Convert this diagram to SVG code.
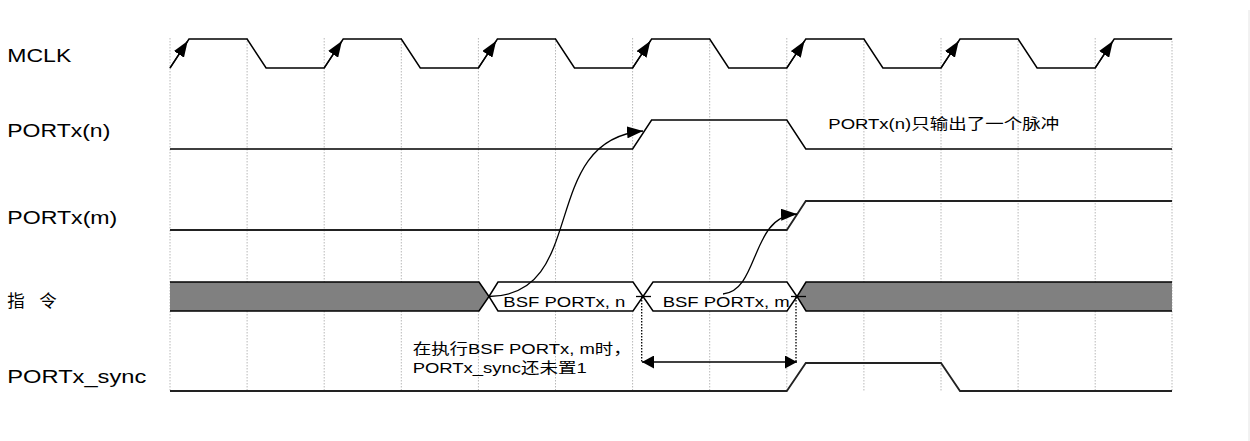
<svg xmlns="http://www.w3.org/2000/svg" width="1250" height="441" viewBox="0 0 1250 441">
<style>
.grid{stroke:#b8b8b8;stroke-width:1;stroke-dasharray:1.5,1.5;fill:none}
.wave{stroke:#000;stroke-width:1.5;fill:none;stroke-linejoin:miter}
.dark{stroke:#222;stroke-width:1.8;fill:none}
.bus{stroke:#000;stroke-width:1.5}
.lbl{font-family:"Liberation Sans","Noto Sans CJK SC",sans-serif;font-size:19px;fill:#000}
.ann{font-family:"Liberation Sans","Noto Sans CJK SC",sans-serif;font-size:15px;fill:#000}
.conn{stroke:#000;stroke-width:1.3;fill:none}
.dot{stroke:#000;stroke-width:1.3;stroke-dasharray:1.5,1.5;fill:none}
</style>
<defs>
<marker id="ah" viewBox="0 0 16 12" refX="16" refY="6" markerWidth="16" markerHeight="12" markerUnits="userSpaceOnUse" orient="auto"><path d="M0,0 L16,6 L0,12 z" fill="#000"/></marker>
<marker id="ah2" viewBox="0 0 12 13" refX="12" refY="6.5" markerWidth="12" markerHeight="13" markerUnits="userSpaceOnUse" orient="auto-start-reverse"><path d="M0,0 L12,6.5 L0,13 z" fill="#000"/></marker>
</defs>
<rect width="1250" height="441" fill="#fff"/>
<line x1="1249" y1="10" x2="1249" y2="441" stroke="#e4e4e4" stroke-width="1"/>
<g id="grid">
<line class="grid" x1="170" y1="38" x2="170" y2="391"/>
<line class="grid" x1="247.1" y1="38" x2="247.1" y2="391"/>
<line class="grid" x1="324.2" y1="38" x2="324.2" y2="391"/>
<line class="grid" x1="401.3" y1="38" x2="401.3" y2="391"/>
<line class="grid" x1="478.4" y1="38" x2="478.4" y2="391"/>
<line class="grid" x1="555.5" y1="38" x2="555.5" y2="391"/>
<line class="grid" x1="632.6" y1="38" x2="632.6" y2="391"/>
<line class="grid" x1="709.7" y1="38" x2="709.7" y2="391"/>
<line class="grid" x1="786.8" y1="38" x2="786.8" y2="391"/>
<line class="grid" x1="863.9" y1="38" x2="863.9" y2="391"/>
<line class="grid" x1="941" y1="38" x2="941" y2="391"/>
<line class="grid" x1="1018.1" y1="38" x2="1018.1" y2="391"/>
<line class="grid" x1="1095.2" y1="38" x2="1095.2" y2="391"/>
<line class="grid" x1="1172" y1="38" x2="1172" y2="391" stroke="#d8d8d8"/>
</g>
<g id="mclk">
<text class="lbl" x="7.3" y="62.3" textLength="64" lengthAdjust="spacingAndGlyphs">MCLK</text>
<path class="wave" d="M170,68 L189,39 L247.1,39 L266.1,68 L324.2,68 L343.2,39 L401.3,39 L420.3,68 L478.4,68 L497.4,39 L555.5,39 L574.5,68 L632.6,68 L651.6,39 L709.7,39 L728.7,68 L786.8,68 L805.8,39 L863.9,39 L882.9,68 L941,68 L960,39 L1018.1,39 L1037.1,68 L1095.2,68 L1114.2,39 L1172,39"/>
<g class="conn" marker-end="url(#ah)">
<line x1="170" y1="68" x2="187.7" y2="41"/>
<line x1="324.2" y1="68" x2="341.9" y2="41"/>
<line x1="478.4" y1="68" x2="496.1" y2="41"/>
<line x1="632.6" y1="68" x2="650.3" y2="41"/>
<line x1="786.8" y1="68" x2="804.5" y2="41"/>
<line x1="941" y1="68" x2="958.7" y2="41"/>
<line x1="1095.2" y1="68" x2="1112.9" y2="41"/>
</g>
</g>
<g id="portx-n">
<text class="lbl" x="7.3" y="137.3" textLength="103" lengthAdjust="spacingAndGlyphs">PORTx(n)</text>
<path class="wave" d="M170,149 L632.6,149 L651.6,120 L786.8,120 L805.8,149 L1172,149"/>
<text class="ann" x="828.3" y="129" textLength="231" lengthAdjust="spacingAndGlyphs">PORTx(n)只输出了一个脉冲</text>
</g>
<g id="portx-m">
<text class="lbl" x="7.3" y="224" textLength="110" lengthAdjust="spacingAndGlyphs">PORTx(m)</text>
<path class="dark" d="M170,230 L786.8,230 L805.8,201 L1172,201"/>
</g>
<g id="instr">
<text class="lbl" y="307" style="font-size:17.5px"><tspan x="7.3">指 </tspan><tspan x="39.3">令</tspan></text>
<polygon points="170,282 479,282 489,296.5 479,311 170,311" fill="#808080"/>
<path class="bus" fill="none" d="M170,282 L479,282 L489,296.5 L479,311 L170,311"/>
<polygon class="bus" fill="#fff" points="489,296.5 498,282 633,282 643,296.5 633,311 498,311"/>
<polygon class="bus" fill="#fff" points="643,296.5 653,282 787,282 797,296.5 787,311 653,311"/>
<polygon points="797,296.5 806,282 1172,282 1172,311 806,311" fill="#808080"/>
<path class="bus" fill="none" d="M1172,282 L806,282 L797,296.5 L806,311 L1172,311"/>
<text class="ann" x="503.3" y="306.7" textLength="122" lengthAdjust="spacingAndGlyphs">BSF PORTx, n</text>
<text class="ann" x="662.7" y="306.7" textLength="127" lengthAdjust="spacingAndGlyphs">BSF PORTx, m</text>
</g>
<g id="portx-sync">
<text class="lbl" x="7.3" y="383.3" textLength="139" lengthAdjust="spacingAndGlyphs">PORTx_sync</text>
<path class="dark" d="M170,391 L786.8,391 L805.8,363 L941,363 L960,391 L1172,391"/>
</g>
<g id="note">
<text class="ann" x="412.7" y="354" textLength="219" lengthAdjust="spacingAndGlyphs">在执行BSF PORTx, m时，</text>
<text class="ann" x="412.7" y="372.7" textLength="174" lengthAdjust="spacingAndGlyphs">PORTx_sync还未置1</text>
</g>
<g id="connectors">
<path class="conn" marker-end="url(#ah)" d="M489,296.5 C590,296 537,140 643,131"/>
<path class="conn" marker-end="url(#ah)" d="M723,294 C760,290 750,216 797,214"/>
<line class="conn" x1="636" y1="296.5" x2="651" y2="296.5"/>
<line class="conn" x1="791" y1="296.5" x2="806" y2="296.5"/>
<line class="dot" x1="641.7" y1="297" x2="641.7" y2="362"/>
<line class="dot" x1="796" y1="297" x2="796" y2="362"/>
<line class="conn" stroke-width="1.6" x1="642" y1="362" x2="797" y2="362" marker-start="url(#ah2)" marker-end="url(#ah2)"/>
</g>
</svg>
